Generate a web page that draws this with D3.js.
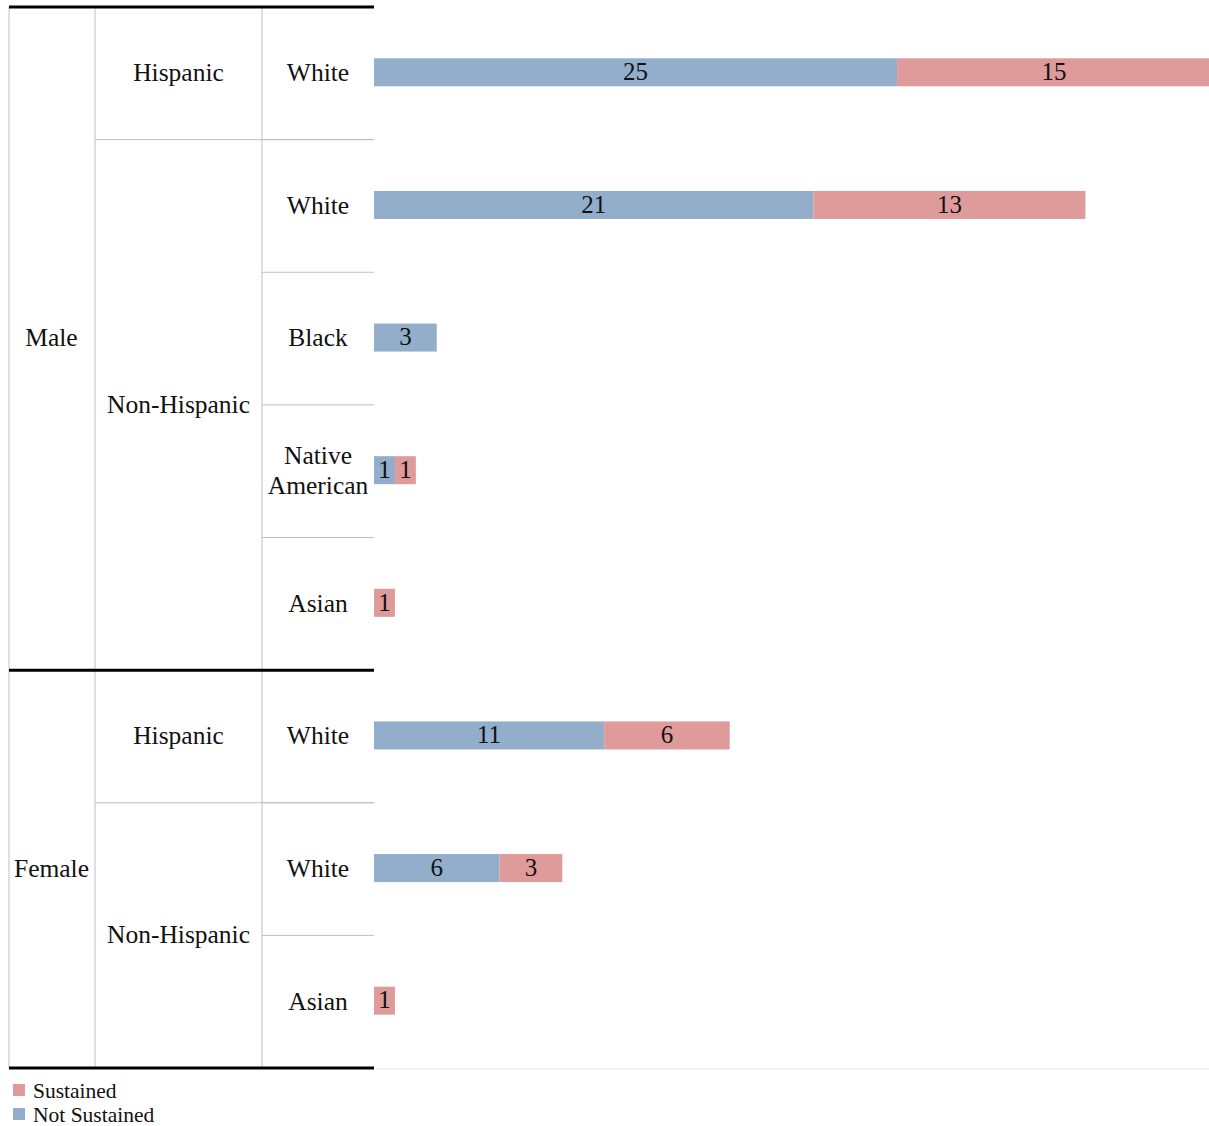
<!DOCTYPE html>
<html>
<head>
<meta charset="utf-8">
<script src="https://cdn.jsdelivr.net/npm/d3@7"></script>
<style>
  body { margin: 0; background: #fff; }
</style>
</head>
<body>
<script>
// data
var genders    = ["Male", "Male", "Male", "Male", "Male", "Female", "Female", "Female"];
var ethnicity  = ["Hispanic", "Non-Hispanic", "Non-Hispanic", "Non-Hispanic", "Non-Hispanic", "Hispanic", "Non-Hispanic", "Non-Hispanic"];
var races      = ["White", "White", "Black", "Native American", "Asian", "White", "White", "Asian"];
var notSustained = [25, 21, 3, 1, 0, 11, 6, 0];
var sustained    = [15, 13, 0, 1, 1, 6, 3, 1];
var seriesNames  = ["Sustained", "Not Sustained"];
var colors = {"Not Sustained": "#92aecb", "Sustained": "#df9a9a"};

var W = 1209, H = 1126;
var col = [9, 95, 262, 374];
var FONT = "'Liberation Serif', Tinos, 'Times New Roman', 'DejaVu Serif', serif";
var LAB = 25.5;

var rows = races.map(function(r, i) {
  return {i: i, gender: genders[i], eth: ethnicity[i], race: r, ns: notSustained[i], s: sustained[i]};
});

var y = d3.scaleBand().domain(d3.range(rows.length)).range([7, 1068]);
var x = d3.scaleLinear().domain([0, 40]).range([col[3], 1211]);
var barH = 28;

var svg = d3.select("body").append("svg").attr("width", W).attr("height", H)
  .attr("font-family", FONT).attr("fill", "#111");

// group spans
function spans(keyFn, labelFn) {
  var out = [];
  rows.forEach(function(d) {
    var k = keyFn(d);
    var last = out[out.length - 1];
    if (last && last.key === k) last.end = d.i;
    else out.push({key: k, label: labelFn(d), start: d.i, end: d.i});
  });
  return out;
}
var gSpans = spans(function(d) { return d.gender; }, function(d) { return d.gender; });
var eSpans = spans(function(d) { return d.gender + "|" + d.eth; }, function(d) { return d.eth; });

// faint baseline to right
svg.append("line").attr("x1", col[3]).attr("x2", W).attr("y1", 1069).attr("y2", 1069)
  .attr("stroke", "#f3f3f3").attr("stroke-width", 2);

// vertical grey lines
svg.selectAll(".vline").data(col.slice(0, 3)).enter().append("line")
  .attr("x1", function(d) { return d; }).attr("x2", function(d) { return d; })
  .attr("y1", 7).attr("y2", 1068)
  .attr("stroke", "#c0c0c0").attr("stroke-width", 1);

// horizontal grey lines between races
svg.selectAll(".rline").data(rows.slice(1)).enter().append("line")
  .attr("x1", col[2]).attr("x2", col[3])
  .attr("y1", function(d) { return y(d.i); }).attr("y2", function(d) { return y(d.i); })
  .attr("stroke", "#c0c0c0").attr("stroke-width", 1);

// horizontal grey lines between ethnicities
svg.selectAll(".eline").data(eSpans.slice(1)).enter().append("line")
  .attr("x1", col[1]).attr("x2", col[3])
  .attr("y1", function(d) { return y(d.start); }).attr("y2", function(d) { return y(d.start); })
  .attr("stroke", "#c0c0c0").attr("stroke-width", 1);

// thick black lines: top, between genders, bottom
var thick = [y(0)].concat(gSpans.slice(1).map(function(d) { return y(d.start); })).concat([1068]);
svg.selectAll(".tline").data(thick).enter().append("line")
  .attr("x1", col[0]).attr("x2", col[3])
  .attr("y1", function(d) { return d; }).attr("y2", function(d) { return d; })
  .attr("stroke", "#000").attr("stroke-width", 3);

function spanMid(d) { return (y(d.start) + y(d.end) + y.bandwidth()) / 2; }

// gender labels
svg.selectAll(".glab").data(gSpans).enter().append("text")
  .attr("x", (col[0] + col[1]) / 2 - 0.5).attr("y", function(d) { return spanMid(d) - 1; })
  .attr("dy", "0.35em").attr("text-anchor", "middle").attr("font-size", LAB)
  .text(function(d) { return d.label; });

// ethnicity labels
svg.selectAll(".elab").data(eSpans).enter().append("text")
  .attr("x", (col[1] + col[2]) / 2).attr("y", function(d) { return spanMid(d) - 1; })
  .attr("dy", "0.35em").attr("text-anchor", "middle").attr("font-size", LAB)
  .text(function(d) { return d.label; });

// race labels (wrap two-word labels)
rows.forEach(function(d) {
  var words = d.race.split(" ");
  var t = svg.append("text")
    .attr("x", (col[2] + col[3]) / 2)
    .attr("y", y(d.i) + y.bandwidth() / 2 - 1 - (words.length - 1) * 15)
    .attr("text-anchor", "middle").attr("font-size", LAB);
  words.forEach(function(w, k) {
    t.append("tspan").attr("x", (col[2] + col[3]) / 2)
      .attr("dy", k === 0 ? "0.35em" : 30)
      .text(w);
  });
});

// bars
var stack = d3.stack().keys(["ns", "s"]);
var layers = stack(rows);
var keyName = {ns: "Not Sustained", s: "Sustained"};

layers.forEach(function(layer) {
  var segs = layer.filter(function(d) { return d[1] - d[0] > 0; });
  svg.selectAll(".bar-" + layer.key).data(segs).enter().append("rect")
    .attr("x", function(d) { return x(d[0]); })
    .attr("width", function(d) { return x(d[1]) - x(d[0]); })
    .attr("y", function(d) { return y(d.data.i) + y.bandwidth() / 2 - barH / 2 - 1; })
    .attr("height", barH)
    .attr("fill", colors[keyName[layer.key]]);
  svg.selectAll(".lab-" + layer.key).data(segs).enter().append("text")
    .attr("x", function(d) { return (x(d[0]) + x(d[1])) / 2; })
    .attr("y", function(d) { return y(d.data.i) + y.bandwidth() / 2 - 2; })
    .attr("dy", "0.35em").attr("text-anchor", "middle").attr("font-size", 25)
    .text(function(d) { return d[1] - d[0]; });
});

// legend
var leg = svg.selectAll(".leg").data(seriesNames).enter().append("g")
  .attr("transform", function(d, i) { return "translate(13," + (1084 + i * 24) + ")"; });
leg.append("rect").attr("width", 12).attr("height", 12)
  .attr("fill", function(d) { return colors[d]; });
leg.append("text").attr("x", 20).attr("y", 6).attr("dy", "0.35em")
  .attr("font-size", 21.5).text(function(d) { return d; });
</script>
</body>
</html>
